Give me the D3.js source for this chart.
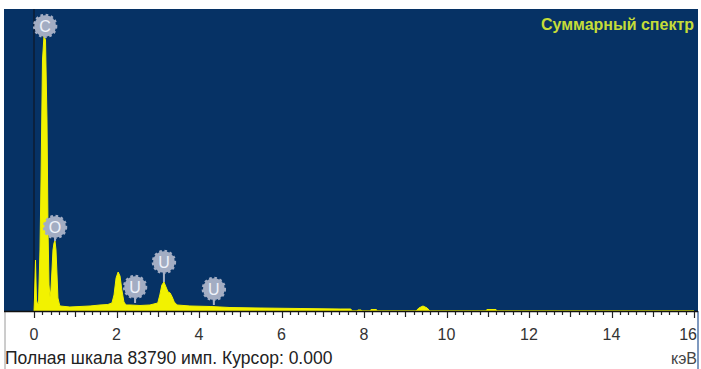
<!DOCTYPE html>
<html>
<head>
<meta charset="utf-8">
<script src="https://cdn.jsdelivr.net/npm/d3@7"></script>
<style>
  html, body { margin: 0; padding: 0; background: #ffffff; }
  svg { display: block; font-family: Arial, "Liberation Sans", sans-serif; }
</style>
</head>
<body>
<svg id="chart" width="701" height="369"></svg>
<script>
// EDS sum spectrum: energy (keV) vs counts
const energyKeV = [0.00, 0.01, 0.036, 0.06, 0.085, 0.11, 0.145, 0.17, 0.206, 0.242, 0.279, 0.315, 0.34, 0.364, 0.388,
  0.41, 0.436, 0.46, 0.485, 0.509, 0.533, 0.558, 0.58, 0.62, 0.63, 0.87, 1.115, 1.36, 1.60, 1.79, 1.89,
  1.94, 1.99, 2.04, 2.085, 2.13, 2.18, 2.23, 2.33, 2.57, 2.81, 3.00,
  3.05, 3.10, 3.15, 3.20, 3.25, 3.30, 3.35, 3.40, 3.47,
  3.78, 4.27, 4.75, 5.48, 6.45, 7.42, 7.68, 7.71,
  7.83, 7.85, 7.93, 7.95, 8.15, 8.17, 8.30, 8.32,
  9.26, 9.33, 9.43, 9.53, 9.60,
  10.96, 10.98, 11.20, 11.22, 16.00];
const counts = [0, 3050, 14150, 3050, 1940, 2220, 16930, 36350, 69650, 76310, 75200, 53000, 22480, 7215, 3885,
  5830, 11380, 16930, 18870, 19430, 16930, 9990, 3610, 1665, 1390, 1110, 1250, 1390, 1665, 1800, 2220,
  4440, 9160, 10820, 9710, 5830, 2500, 1665, 1665, 1530, 1665, 2220,
  4440, 7215, 8050, 6660, 5270, 5000, 3885, 2500, 1665,
  1390, 1250, 970, 830, 690, 555, 555, 0,
  0, 280, 280, 0, 0, 420, 420, 0,
  0, 830, 1390, 830, 0,
  0, 420, 420, 0, 0];

// Element markers: label, energy, label-centre height, stem end height (counts)
const markerLabels = ["C", "O", "U", "U", "U"];
const markerKeV = [0.27, 0.51, 2.45, 3.15, 4.36];
const markerCounts = [79090, 23310, 6660, 13600, 6105];
const markerStemEnd = [76310, 19430, 2220, 8050, 1665];

const xTicks = [0, 2, 4, 6, 8, 10, 12, 14, 16];
const fullScale = 83790;
const cursorKeV = 0.0;
const titleText = "Суммарный спектр";
const footerText = "Полная шкала 83790 имп. Курсор: 0.000";
const unitText = "кэВ";

const svg = d3.select("#chart");
const W = 701, H = 369;
const plot = { left: 4, right: 698, top: 9, bottom: 311 };

const x = d3.scaleLinear().domain([0, 16]).range([34, 694]);
const y = d3.scaleLinear().domain([0, fullScale]).range([plot.bottom, plot.top]);

// plot background
svg.append("rect")
  .attr("x", plot.left).attr("y", plot.top)
  .attr("width", plot.right - plot.left).attr("height", plot.bottom - plot.top)
  .attr("fill", "#063265");

// axis panel frame
svg.append("line").attr("x1", plot.left + 1).attr("x2", plot.left + 1)
  .attr("y1", plot.bottom).attr("y2", H).attr("stroke", "#9a9a9a").attr("stroke-width", 1);
svg.append("line").attr("x1", plot.right).attr("x2", plot.right)
  .attr("y1", plot.bottom).attr("y2", H).attr("stroke", "#5577aa").attr("stroke-width", 1.5);

// cursor line
svg.append("line")
  .attr("x1", x(cursorKeV)).attr("x2", x(cursorKeV))
  .attr("y1", plot.top).attr("y2", plot.bottom)
  .attr("stroke", "#0d1c33").attr("stroke-width", 1.5);

// spectrum area
const pts = energyKeV.map((e, i) => [e, counts[i]]);
const area = d3.area()
  .x(d => x(d[0]))
  .y0(y(0))
  .y1(d => y(d[1]));
svg.append("path")
  .datum(pts)
  .attr("d", area)
  .attr("fill", "#f2f200")
  .attr("stroke", "#f2f200")
  .attr("stroke-width", 1)
  .attr("stroke-linejoin", "round");

// x axis
const axis = svg.append("g").attr("transform", `translate(0,${plot.bottom})`);
axis.append("line").attr("x1", plot.left).attr("x2", plot.right)
  .attr("y1", 0.5).attr("y2", 0.5).attr("stroke", "#111").attr("stroke-width", 1.5);
const minor = d3.range(0, 16.0001, 0.2);
axis.selectAll("line.tick").data(minor).join("line")
  .attr("class", "tick")
  .attr("x1", d => Math.round(x(d)) + 0.5).attr("x2", d => Math.round(x(d)) + 0.5)
  .attr("y1", 1)
  .attr("y2", d => {
    const r = Math.round(d * 10) / 10;
    if (Math.abs(r % 2) < 1e-6) return 7;
    if (Math.abs(r % 1) < 1e-6) return 6;
    return 4;
  })
  .attr("stroke", "#222").attr("stroke-width", 1.2);
// last label sits against the right frame, so it is right-aligned to stay inside
axis.selectAll("text.lbl").data(xTicks).join("text")
  .attr("class", "lbl")
  .attr("x", d => d === 16 ? plot.right - 1 : x(d)).attr("y", 29)
  .attr("text-anchor", d => d === 16 ? "end" : "middle")
  .attr("font-size", 16)
  .attr("fill", "#333")
  .text(d => d);

// footer texts
svg.append("text").attr("x", 5).attr("y", 364)
  .attr("font-size", 17.5).attr("fill", "#222").text(footerText);
svg.append("text").attr("x", 697).attr("y", 364).attr("text-anchor", "end")
  .attr("font-size", 16).attr("fill", "#444").text(unitText);

// title
svg.append("text").attr("x", 694).attr("y", 30).attr("text-anchor", "end")
  .attr("font-size", 16).attr("font-weight", "bold").attr("fill", "#c5dc38").text(titleText);

// element markers
const mk = svg.append("g");
markerLabels.forEach((lab, i) => {
  const cx = x(markerKeV[i]);
  const cy = y(markerCounts[i]);
  const g = mk.append("g");
  g.append("line")
    .attr("x1", cx).attr("x2", cx)
    .attr("y1", cy + 10).attr("y2", y(markerStemEnd[i]))
    .attr("stroke", "#a8b2c6").attr("stroke-width", 2);
  g.append("circle").attr("cx", cx).attr("cy", cy).attr("r", 11)
    .attr("fill", "none").attr("stroke", "#a4aec4").attr("stroke-width", 2.4)
    .attr("stroke-dasharray", "2.6,2.6");
  g.append("circle").attr("cx", cx).attr("cy", cy).attr("r", 10.8)
    .attr("fill", "#a3adc3");
  g.append("text").attr("x", cx).attr("y", cy + 6)
    .attr("text-anchor", "middle").attr("font-size", 16)
    .attr("fill", "#eef2fa").text(lab);
});
</script>
</body>
</html>
